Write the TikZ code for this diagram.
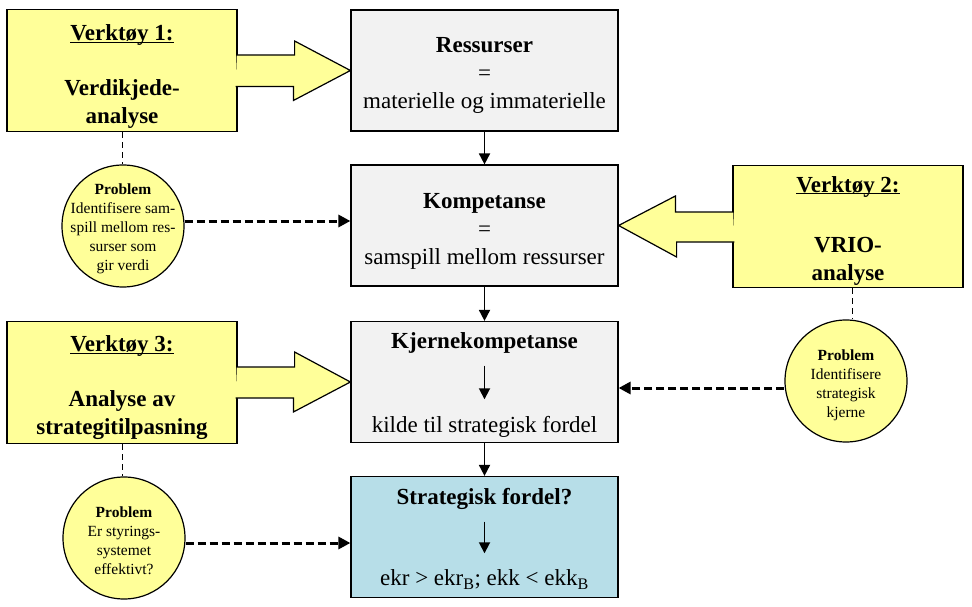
\documentclass[tikz,border=0pt]{standalone}
\usepackage{fontspec}
\setmainfont{Liberation Serif}
\usetikzlibrary{arrows.meta}

\definecolor{toolyellow}{HTML}{FFFF99}
\definecolor{boxgray}{HTML}{F2F2F2}
\definecolor{boxblue}{HTML}{B7DEE8}

\begin{document}
\begin{tikzpicture}[x=1pt,y=-1pt,
	mainbox/.style={draw, line width=1.2pt, fill=boxgray, minimum width=267pt, minimum height=121pt, inner sep=0pt},
	maintext/.style={align=center, inner sep=0pt, font=\fontsize{23}{28}\selectfont},
	toolbox/.style={draw, line width=1.2pt, fill=toolyellow, minimum width=230pt, minimum height=122pt, inner sep=0pt},
	tooltext/.style={align=center, inner sep=0pt, font=\fontsize{23}{27.5}\selectfont\bfseries},
	toolarrow/.style={draw, line width=1.2pt, fill=toolyellow, line join=miter},
	problem/.style={circle, draw, line width=1.2pt, fill=toolyellow, minimum size=122pt, inner sep=0pt},
	problemtext/.style={align=center, inner sep=0pt, font=\fontsize{15.5}{19}\selectfont},
	titletext/.style={inner sep=0pt, text height=16pt, text depth=5pt, font=\fontsize{23}{28}\selectfont\bfseries},
	plaintext/.style={inner sep=0pt, text height=16pt, text depth=5pt, font=\fontsize{23}{28}\selectfont},
	flow/.style={line width=1.8pt, -{Triangle[length=11pt,width=11pt]}},
	probarrow/.style={line width=3pt, dash pattern=on 8pt off 4pt, -{Triangle[length=12pt,width=12pt]}},
	link/.style={line width=0.8pt, dash pattern=on 6pt off 4pt}]
	\useasboundingbox (0,0) rectangle (972,607);

	\node[mainbox] (ress) at (484.5,70.5) {};
	\node[mainbox] (komp) at (484.5,225.5) {};
	\node[mainbox] (kjerne) at (484.5,382) {};
	\node[mainbox, fill=boxblue] (strat) at (484.5,537) {};
	\node[maintext] (resstext) at ([yshift=-5pt]ress.center) {\textbf{Ressurser}\\=\\materielle og immaterielle};
	\node[maintext] (komptext) at ([yshift=-6pt]komp.center) {\textbf{Kompetanse}\\=\\samspill mellom ressurser};
	\node[titletext] (kjtitle) at (484.5,343) {Kjernekompetanse};
	\node[plaintext] (kjtext) at (484.5,427) {kilde til strategisk fordel};
	\node[titletext] (sttitle) at (484.5,499) {Strategisk fordel?};
	\node[plaintext] (sttext) at (484.5,580) {ekr > ekr\textsubscript{B}; ekk < ekk\textsubscript{B}};

	\node[toolbox] (v1) at (122,70.5) {};
	\node[toolbox] (v2) at (848,226.5) {};
	\node[toolbox] (v3) at (122,382.5) {};
	\node[tooltext] (v1text) at ([yshift=-14pt]v1.center) {\underline{\smash{Verktøy 1:}}\\[27.5pt]Verdikjede-\\analyse};
	\node[tooltext] (v2text) at ([yshift=-12pt]v2.center) {\underline{\smash{Verktøy 2:}}\\[33pt]VRIO-\\analyse};
	\node[tooltext] (v3text) at ([yshift=-13pt]v3.center) {\underline{\smash{Verktøy 3:}}\\[27.5pt]Analyse av\\strategitilpasning};

	\filldraw[toolarrow] ([xshift=-0.8pt,yshift=15.5pt]v1.east) -- ++(57.8,0) -- ++(0,-14) -- (ress.west) -- ++(-57,30) -- ++(0,-14) -- ++(-57.8,0);
	\filldraw[toolarrow] ([xshift=0.8pt,yshift=14.5pt]v2.west) -- ++(-57.8,0) -- ++(0,-16) -- (komp.east) -- ++(58,31.5) -- ++(0,-15) -- ++(57.8,0);
	\filldraw[toolarrow] ([xshift=-0.8pt,yshift=15.5pt]v3.east) -- ++(57.8,0) -- ++(0,-15) -- (kjerne.west) -- ++(-57,30) -- ++(0,-14) -- ++(-57.8,0);

	\node[problem] (p1) at (123,226) {};
	\node[problemtext] (p1text) at ([yshift=-3pt]p1.center) {\textbf{Problem}\\Identifisere sam-\\spill mellom res-\\surser som\\gir verdi};
	\node[problem] (p2) at (846,381) {};
	\node[problemtext] (p2text) at ([yshift=-4pt]p2.center) {\textbf{Problem}\\Identifisere\\strategisk\\kjerne};
	\node[problem] (p3) at (124,538) {};
	\node[problemtext] (p3text) at ([yshift=-3pt]p3.center) {\textbf{Problem}\\Er styrings-\\systemet\\effektivt?};

	\draw[link] (v1.south) -- (v1.south |- p1.north);
	\draw[link] ([xshift=4pt]v2.south) -- ([xshift=4pt]v2.south |- p2.north);
	\draw[link] (v3.south) -- (v3.south |- p3.north);

	\draw[probarrow] ([yshift=5pt]p1.east) -- ([yshift=5pt]p1.east -| komp.west);
	\draw[probarrow] ([yshift=-7pt]p2.west) -- ([yshift=-7pt]p2.west -| kjerne.east);
	\draw[probarrow] ([yshift=-5pt]p3.east) -- ([yshift=-5pt]p3.east -| strat.west);

	\draw[flow] (ress) -- (komp);
	\draw[flow] (komp) -- (kjerne);
	\draw[flow] (kjerne) -- (strat);
	\draw[flow, shorten <=12pt, shorten >=17pt] (kjtitle) -- (kjtext);
	\draw[flow, shorten <=12pt, shorten >=16pt] (sttitle) -- (sttext);
\end{tikzpicture}
\end{document}
